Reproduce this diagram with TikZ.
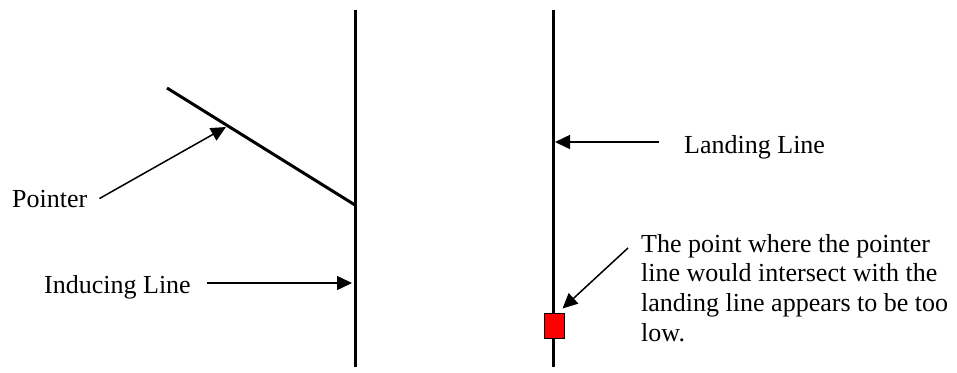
\documentclass[tikz,border=0pt]{standalone}
\usepackage{fontspec}
\setmainfont{Liberation Serif}
\usetikzlibrary{arrows.meta}

\begin{document}
\begin{tikzpicture}[x=1pt,y=-1pt,
  lbl/.style={anchor=base west, inner sep=0, font=\fontsize{26}{29.7}\selectfont},
  thickline/.style={line width=3pt},
  pointto/.style={line width=1.5pt, -{Triangle[length=15pt,width=14pt]}}]
\useasboundingbox (0,0) rectangle (957,372);
% left half: inducing line with the pointer
\coordinate (indtop) at (355,10);
\coordinate (indbot) at (355,367);
\coordinate (ptrend) at (167,88);
\coordinate (ptrbase) at (355,205);
\draw[thickline] (indtop) -- (indbot);
\draw[thickline] (ptrend) -- (ptrbase);
\coordinate (ptrhit) at (226,127);
\coordinate (indhit) at (352,283);
\node[lbl] (ptrlbl) at (12,207) {Pointer};
\node[lbl] (indlbl) at (44,293) {Inducing Line};
\draw[pointto] ([xshift=12pt]ptrlbl.east) -- (ptrhit);
\draw[pointto] (indhit -| indlbl.east) ++(16,0) -- (indhit);
% right half: landing line
\coordinate (landtop) at (553,10);
\coordinate (landbot) at (553,367);
\draw[thickline] (landtop) -- (landbot);
\node[draw=black, line width=1pt, fill=red, minimum width=20pt, minimum height=25pt, inner sep=0] (redpt) at (554,325.5) {};
\coordinate (landhit) at (555,142);
\node[lbl] (landlbl) at (684,153) {Landing Line};
\draw[pointto] (landhit -| landlbl.west) ++(-25,0) -- (landhit);
\node[lbl, anchor=north west, align=left] (note) at (641,234)
  {The point where the pointer\\line would intersect with the\\landing line appears to be too\\low.};
\draw[pointto] ([xshift=-13pt,yshift=-14pt]note.north west) -- ([shift={(-2pt,4pt)}]redpt.north east);
\end{tikzpicture}
\end{document}
